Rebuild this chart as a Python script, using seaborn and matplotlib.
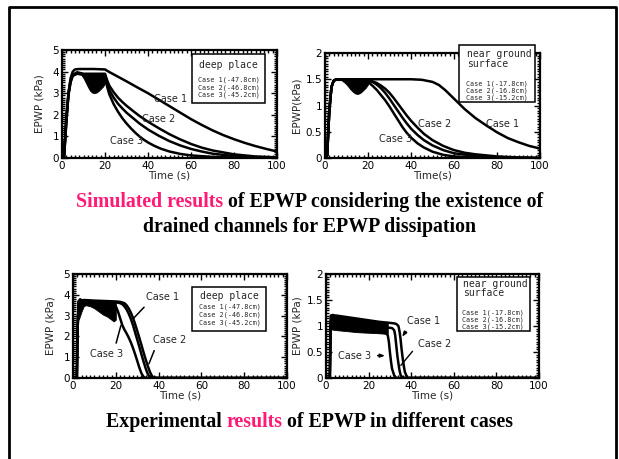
import numpy as np
import pandas as pd
import matplotlib
matplotlib.use("Agg")
import matplotlib.pyplot as plt
import seaborn as sns
from matplotlib.ticker import MultipleLocator
from matplotlib.patches import Rectangle
from matplotlib.lines import Line2D

# ---------------- data ----------------
time_ticks = [0, 20, 40, 60, 80, 100]
time_tick_labels = ["0", "20", "40", "60", "80", "100"]
deep_ticks = [0, 1, 2, 3, 4, 5]
deep_tick_labels = ["0", "1", "2", "3", "4", "5"]
near_ticks = [0, 0.5, 1, 1.5, 2]
near_tick_labels = ["0", "0.5", "1", "1.5", "2"]

# Simulated, deep place
sim_deep_c1_t = [0, 1, 2, 3, 4, 5, 6, 8, 10, 15, 20, 22, 25, 30, 35, 40, 45, 50, 55, 60, 65, 70, 75, 80, 85, 90, 95, 100]
sim_deep_c1_v = [0, 0.1, 1.6, 3.0, 3.7, 4.0, 4.1, 4.12, 4.12, 4.12, 4.1, 3.98, 3.82, 3.55, 3.27, 3.0, 2.7, 2.4, 2.1, 1.8, 1.53, 1.28, 1.06, 0.87, 0.7, 0.55, 0.42, 0.3]
sim_deep_c2_t = [0, 1, 2, 3, 4, 5, 7, 10, 15, 20, 21, 22, 24, 26, 28, 30, 33, 36, 40, 45, 50, 55, 60, 65, 70, 80, 90, 100]
sim_deep_c2_v = [0, 0.2, 1.9, 3.0, 3.6, 3.85, 3.97, 3.9, 3.9, 3.9, 3.6, 3.35, 3.05, 2.8, 2.6, 2.42, 2.18, 1.95, 1.68, 1.38, 1.1, 0.86, 0.65, 0.48, 0.35, 0.17, 0.07, 0.03]
sim_deep_c2b_t = [0, 1, 2, 3, 4, 5, 7, 10, 15, 20, 21, 22, 24, 26, 28, 30, 33, 36, 40, 45, 50, 55, 60, 65, 70, 80, 90, 100]
sim_deep_c2b_v = [0, 0.15, 1.8, 2.95, 3.55, 3.82, 3.93, 3.87, 3.87, 3.85, 3.45, 3.15, 2.8, 2.52, 2.3, 2.1, 1.85, 1.6, 1.32, 1.03, 0.78, 0.58, 0.42, 0.3, 0.2, 0.09, 0.03, 0.01]
sim_deep_c3_t = [0, 1, 2, 3, 4, 5, 7, 10, 15, 20, 21, 22, 24, 26, 28, 30, 32, 34, 36, 38, 40, 43, 46, 50, 55, 60, 70, 80, 90, 100]
sim_deep_c3_v = [0, 0.1, 1.7, 2.9, 3.5, 3.8, 3.9, 3.85, 3.85, 3.8, 3.3, 2.95, 2.5, 2.15, 1.85, 1.6, 1.38, 1.18, 1.0, 0.85, 0.72, 0.56, 0.43, 0.3, 0.19, 0.12, 0.05, 0.02, 0.01, 0]
sim_deep_band_t = [9, 10, 11, 12, 13, 14, 15, 16, 17, 18, 19, 20]
sim_deep_band_lo = [3.85, 3.7, 3.5, 3.3, 3.12, 3.03, 3.0, 3.03, 3.1, 3.2, 3.3, 3.45]
sim_deep_band_hi = [3.95, 3.93, 3.92, 3.9, 3.9, 3.9, 3.9, 3.9, 3.9, 3.9, 3.9, 3.9]

# Simulated, near ground surface
sim_near_c1_t = [0, 1, 2, 3, 4, 5, 8, 20, 30, 40, 45, 50, 53, 56, 60, 65, 70, 75, 80, 85, 90, 95, 100]
sim_near_c1_v = [0, 0.05, 0.9, 1.35, 1.47, 1.5, 1.5, 1.5, 1.5, 1.5, 1.49, 1.45, 1.39, 1.29, 1.13, 0.93, 0.76, 0.62, 0.49, 0.38, 0.3, 0.23, 0.18]
sim_near_c2_t = [0, 1, 2, 3, 4, 5, 8, 20, 22, 24, 26, 28, 30, 32, 34, 36, 38, 40, 43, 46, 50, 55, 60, 65, 70, 80, 90, 100]
sim_near_c2_v = [0, 0.05, 0.9, 1.35, 1.47, 1.49, 1.49, 1.48, 1.46, 1.43, 1.38, 1.32, 1.24, 1.14, 1.03, 0.92, 0.81, 0.71, 0.58, 0.46, 0.34, 0.23, 0.15, 0.1, 0.07, 0.03, 0.01, 0]
sim_near_c2b_t = [0, 1, 2, 3, 4, 5, 8, 20, 22, 24, 26, 28, 30, 32, 34, 36, 38, 40, 43, 46, 50, 55, 60, 70, 80, 100]
sim_near_c2b_v = [0, 0.05, 0.9, 1.35, 1.47, 1.49, 1.49, 1.47, 1.45, 1.4, 1.33, 1.24, 1.13, 1.01, 0.89, 0.77, 0.66, 0.56, 0.44, 0.34, 0.24, 0.15, 0.09, 0.04, 0.01, 0]
sim_near_c3_t = [0, 1, 2, 3, 4, 5, 8, 20, 22, 24, 26, 28, 30, 32, 34, 36, 38, 40, 43, 46, 50, 55, 60, 70, 80, 100]
sim_near_c3_v = [0, 0.05, 0.9, 1.35, 1.47, 1.49, 1.49, 1.45, 1.38, 1.3, 1.2, 1.1, 0.98, 0.85, 0.72, 0.59, 0.48, 0.39, 0.28, 0.2, 0.12, 0.06, 0.03, 0.01, 0, 0]
sim_near_band_t = [8, 9, 10, 11, 12, 13, 14, 15, 16, 17, 18, 19, 20]
sim_near_band_lo = [1.47, 1.44, 1.4, 1.35, 1.3, 1.26, 1.23, 1.22, 1.23, 1.26, 1.3, 1.34, 1.4]
sim_near_band_hi = [1.49, 1.49, 1.49, 1.49, 1.49, 1.49, 1.49, 1.49, 1.49, 1.49, 1.49, 1.49, 1.49]

# Experimental, deep place
exp_deep_c1_t = [0, 1.8, 2.2, 2.6, 5, 10, 15, 20, 22, 23, 24, 25, 26, 27, 28, 29, 30, 31, 32, 33, 34, 35, 36, 40, 60, 80, 100]
exp_deep_c1_v = [0, 0, 2.5, 3.65, 3.7, 3.68, 3.66, 3.64, 3.6, 3.55, 3.45, 3.3, 3.1, 2.85, 2.55, 2.2, 1.85, 1.5, 1.13, 0.78, 0.45, 0.18, 0.03, 0, 0, 0, 0]
exp_deep_c2_t = [0, 1.8, 2.2, 2.6, 5, 10, 15, 20, 22, 24, 25, 26, 27, 28, 29, 30, 31, 32, 33, 34, 35, 36, 37, 38, 40, 60, 80, 100]
exp_deep_c2_v = [0, 0, 2.5, 3.7, 3.75, 3.72, 3.7, 3.68, 3.66, 3.6, 3.5, 3.35, 3.15, 2.9, 2.6, 2.27, 1.93, 1.58, 1.22, 0.88, 0.56, 0.28, 0.08, 0.01, 0, 0, 0, 0]
exp_deep_c3_t = [0, 1.8, 2.2, 2.6, 5, 10, 15, 19, 20, 21, 22, 23, 24, 25, 26, 27, 28, 29, 30, 31, 32, 33, 34, 40, 60, 80, 100]
exp_deep_c3_v = [0, 0, 2.5, 3.6, 3.65, 3.62, 3.6, 3.55, 3.45, 3.2, 2.88, 2.55, 2.33, 2.15, 1.95, 1.72, 1.45, 1.15, 0.83, 0.5, 0.22, 0.05, 0, 0, 0, 0, 0]
exp_deep_band_t = [2.5, 3, 4, 5, 6, 8, 10, 12, 14, 16, 18, 19, 20]
exp_deep_band_lo = [2.8, 2.9, 3.2, 3.45, 3.5, 3.45, 3.35, 3.2, 3.05, 2.95, 2.8, 2.72, 2.8]
exp_deep_band_hi = [3.8, 3.85, 3.8, 3.78, 3.77, 3.76, 3.75, 3.74, 3.73, 3.72, 3.7, 3.7, 3.7]

# Experimental, near ground surface
exp_near_c1_t = [0, 1.8, 2.2, 5, 10, 15, 20, 25, 30, 32, 33, 34, 34.5, 35, 35.5, 36, 36.5, 37, 38, 38.5, 60, 80, 100]
exp_near_c1_v = [0, 0, 1.2, 1.2, 1.17, 1.14, 1.11, 1.08, 1.06, 1.05, 1.04, 1.0, 0.9, 0.75, 0.55, 0.38, 0.24, 0.12, 0.02, 0, 0, 0, 0]
exp_near_c2_t = [0, 1.8, 2.2, 5, 10, 15, 20, 25, 29, 31, 32, 32.5, 33, 33.5, 34, 34.5, 35, 36, 60, 80, 100]
exp_near_c2_v = [0, 0, 1.1, 1.1, 1.07, 1.04, 1.01, 0.99, 0.97, 0.96, 0.92, 0.82, 0.62, 0.43, 0.28, 0.15, 0.06, 0, 0, 0, 0]
exp_near_c3_t = [0, 1.8, 2.2, 5, 10, 15, 20, 25, 28, 29, 29.5, 30, 30.5, 31, 32, 33, 60, 80, 100]
exp_near_c3_v = [0, 0, 0.97, 0.96, 0.94, 0.92, 0.9, 0.88, 0.87, 0.82, 0.7, 0.5, 0.32, 0.18, 0.05, 0, 0, 0, 0]
exp_near_band_t = [2, 3, 5, 10, 15, 20, 25, 28, 29]
exp_near_band_lo = [0.95, 0.93, 0.92, 0.9, 0.88, 0.87, 0.86, 0.85, 0.85]
exp_near_band_hi = [1.22, 1.24, 1.2, 1.17, 1.14, 1.11, 1.08, 1.06, 1.05]

deep_legend = ["Case 1(-47.8cm)", "Case 2(-46.8cm)", "Case 3(-45.2cm)"]
near_legend = ["Case 1(-17.8cm)", "Case 2(-16.8cm)", "Case 3(-15.2cm)"]

# ---------------- style ----------------
sns.set_theme(style="white")
plt.rcParams["font.family"] = ["DejaVu Sans"]
W, H = 619, 459
fig = plt.figure(figsize=(W / 100, H / 100), dpi=100)
fig.patch.set_facecolor("white")


def px_rect(x0, y0, x1, y1):
    return [x0 / W, 1 - y1 / H, (x1 - x0) / W, (y1 - y0) / H]


TICK_FS = 7.5
MONO = "DejaVu Sans Mono"
ENTRY_FS = 4.9


def setup_axes(ax, ymax, ymin, yticks, ylabels, xlabel, ylabel, ylabelpad):
    ax.set_xlim(0, 100)
    ax.set_ylim(0, ymax)
    ax.set_facecolor("white")
    ax.set_xticks(time_ticks)
    ax.set_xticklabels(time_tick_labels)
    ax.set_yticks(yticks)
    ax.set_yticklabels(ylabels)
    ax.xaxis.set_minor_locator(MultipleLocator(2))
    ax.yaxis.set_minor_locator(MultipleLocator(ymin))
    ax.tick_params(which="both", direction="in", top=True, right=True,
                   bottom=True, left=True, colors="black", labelsize=TICK_FS)
    ax.tick_params(which="major", length=4, width=1, pad=2)
    ax.tick_params(which="minor", length=2, width=1)
    for s in ax.spines.values():
        s.set_visible(True)
        s.set_color("black")
        s.set_linewidth(1.6)
    ax.set_xlabel(xlabel, fontsize=TICK_FS, labelpad=0)
    ax.set_ylabel(ylabel, fontsize=TICK_FS, labelpad=ylabelpad)
    ax.grid(False)


def draw_curves(ax, curves, band):
    bt, blo, bhi = band
    ax.fill_between(bt, blo, bhi, color="black", lw=0.6, zorder=2)
    for t, v in curves:
        sns.lineplot(x=t, y=v, ax=ax, color="black", lw=1.8, estimator=None,
                     sort=False, legend=False, zorder=3)


def legend_box(ax, rect, title_lines, title_pos, entries, entry_x, entry_ys, title_ha):
    x0, y0, x1, y1 = rect
    ax.add_patch(Rectangle((x0, y0), x1 - x0, y1 - y0, transform=ax.transAxes,
                           facecolor="white", edgecolor="black", lw=1.1,
                           clip_on=False, zorder=5))
    for (tx, ty), line in zip(title_pos, title_lines):
        ax.text(tx, ty, line, transform=ax.transAxes, fontsize=7, family=MONO,
                ha=title_ha, va="center", zorder=6)
    for ey, e in zip(entry_ys, entries):
        ax.text(entry_x, ey, e, transform=ax.transAxes, fontsize=ENTRY_FS, family=MONO,
                ha="left", va="center", zorder=6)


# ---------- top-left: simulated deep ----------
ax1 = fig.add_axes(px_rect(62, 50, 277, 158))
draw_curves(ax1, [(sim_deep_c1_t, sim_deep_c1_v), (sim_deep_c2_t, sim_deep_c2_v),
                  (sim_deep_c2b_t, sim_deep_c2b_v), (sim_deep_c3_t, sim_deep_c3_v)],
            (sim_deep_band_t, sim_deep_band_lo, sim_deep_band_hi))
setup_axes(ax1, 5, 0.1, deep_ticks, deep_tick_labels, "Time (s)", "EPWP (kPa)", 6)
legend_box(ax1, (0.605, 0.509, 0.944, 0.963), ["deep place"], [(0.775, 0.861)],
           deep_legend, 0.633, [0.725, 0.655, 0.585], "center")
ax1.text(43, 2.74, "Case 1", fontsize=7, va="center", ha="left", zorder=4)
ax1.text(37, 1.8, "Case 2", fontsize=7, va="center", ha="left", zorder=4)
ax1.text(22.5, 0.8, "Case 3", fontsize=7, va="center", ha="left", zorder=4)

# ---------- top-right: simulated near ----------
ax2 = fig.add_axes(px_rect(325, 53, 540, 158))
draw_curves(ax2, [(sim_near_c1_t, sim_near_c1_v), (sim_near_c2_t, sim_near_c2_v),
                  (sim_near_c2b_t, sim_near_c2b_v), (sim_near_c3_t, sim_near_c3_v)],
            (sim_near_band_t, sim_near_band_lo, sim_near_band_hi))
setup_axes(ax2, 2, 0.05, near_ticks, near_tick_labels, "Time(s)", "EPWP(kPa)", 3)
legend_box(ax2, (0.623, 0.533, 0.977, 1.076), ["near ground", "surface"],
           [(0.659, 0.99), (0.659, 0.895)], near_legend, 0.654, [0.708, 0.642, 0.576], "left")
ax2.text(75, 0.65, "Case 1", fontsize=7, va="center", ha="left", zorder=4)
ax2.text(43.4, 0.65, "Case 2", fontsize=7, va="center", ha="left", zorder=4)
ax2.text(25, 0.37, "Case 3", fontsize=7, va="center", ha="left", zorder=4)

# ---------- bottom-left: experimental deep ----------
ax3 = fig.add_axes(px_rect(73, 274, 287, 378))
draw_curves(ax3, [(exp_deep_c1_t, exp_deep_c1_v), (exp_deep_c2_t, exp_deep_c2_v),
                  (exp_deep_c3_t, exp_deep_c3_v)],
            (exp_deep_band_t, exp_deep_band_lo, exp_deep_band_hi))
setup_axes(ax3, 5, 0.1, deep_ticks, deep_tick_labels, "Time (s)", "EPWP (kPa)", 6)
legend_box(ax3, (0.556, 0.452, 0.902, 0.875), ["deep place"], [(0.729, 0.788)],
           deep_legend, 0.589, [0.685, 0.608, 0.531], "center")
t = 27.3
ax3.annotate("Case 1", xy=(t, np.interp(t, exp_deep_c1_t, exp_deep_c1_v)), xytext=(34, 3.9),
             fontsize=7, va="center", ha="left",
             arrowprops=dict(arrowstyle="-", color="black", lw=1.1, relpos=(0.1, 0)), zorder=4)
t = 35
ax3.annotate("Case 2", xy=(t, np.interp(t, exp_deep_c2_t, exp_deep_c2_v)), xytext=(37.5, 1.84),
             fontsize=7, va="center", ha="left",
             arrowprops=dict(arrowstyle="-", color="black", lw=1.1, relpos=(0.1, 0)), zorder=4)
t = 22.7
ax3.annotate("Case 3", xy=(t, np.interp(t, exp_deep_c3_t, exp_deep_c3_v)), xytext=(7.8, 1.15),
             fontsize=7, va="center", ha="left",
             arrowprops=dict(arrowstyle="-", color="black", lw=1.1, relpos=(0.75, 1)), zorder=4)

# ---------- bottom-right: experimental near ----------
ax4 = fig.add_axes(px_rect(326, 274, 539, 378))
draw_curves(ax4, [(exp_near_c1_t, exp_near_c1_v), (exp_near_c2_t, exp_near_c2_v),
                  (exp_near_c3_t, exp_near_c3_v)],
            (exp_near_band_t, exp_near_band_lo, exp_near_band_hi))
setup_axes(ax4, 2, 0.05, near_ticks, near_tick_labels, "Time (s)", "EPWP (kPa)", 3)
legend_box(ax4, (0.615, 0.452, 0.958, 0.971), ["near ground", "surface"],
           [(0.642, 0.90), (0.642, 0.814)], near_legend, 0.64, [0.632, 0.564, 0.496], "left")
t = 35
ax4.annotate("Case 1", xy=(t, np.interp(t, exp_near_c1_t, exp_near_c1_v)), xytext=(37.8, 1.1),
             fontsize=7, va="center", ha="left",
             arrowprops=dict(arrowstyle="-|>,head_length=0.4,head_width=0.15", color="black", lw=1.0, relpos=(0.1, 0)), zorder=4)
t = 34.3
ax4.annotate("Case 2", xy=(t, np.interp(t, exp_near_c2_t, exp_near_c2_v)), xytext=(43, 0.65),
             fontsize=7, va="center", ha="left",
             arrowprops=dict(arrowstyle="-", color="black", lw=1.0, relpos=(0, 0.4)), zorder=4)
ax4.annotate("Case 3", xy=(29.0, 0.43), xytext=(5.8, 0.43),
             fontsize=7, va="center", ha="left",
             arrowprops=dict(arrowstyle="-|>,head_length=0.4,head_width=0.15", color="black", lw=1.0, relpos=(1, 0.5)), zorder=4)

# ---------------- slide frame ----------------
fig.add_artist(Line2D([9 / W, 9 / W, 616 / W, 616 / W], [-0.05, 1 - 7 / H, 1 - 7 / H, -0.05],
                      transform=fig.transFigure, color="black", lw=2.0))

# ---------------- captions ----------------
PINK = "#ff1a75"
SERIF = "Liberation Serif"
renderer = fig.canvas.get_renderer()


def rich_line(pieces, y_px, fs):
    arts = []
    for txt, col in pieces:
        a = fig.text(0, 1 - y_px / H, txt, color=col, fontsize=fs, family=SERIF,
                     weight="bold", ha="left", va="center")
        arts.append(a)
    widths = [a.get_window_extent(renderer=renderer).width for a in arts]
    total = sum(widths)
    x = (W / 2 - total / 2)
    for a, w in zip(arts, widths):
        a.set_x(x / W)
        x += w


CAP_FS = 14.3
rich_line([("Simulated results", PINK), (" of EPWP considering the existence of", "black")], 202, CAP_FS)
rich_line([("drained channels for EPWP dissipation", "black")], 227, CAP_FS)
rich_line([("Experimental ", "black"), ("results", PINK), (" of EPWP in different cases", "black")], 422, CAP_FS)

fig.savefig("out.png", dpi=100, facecolor="white")
